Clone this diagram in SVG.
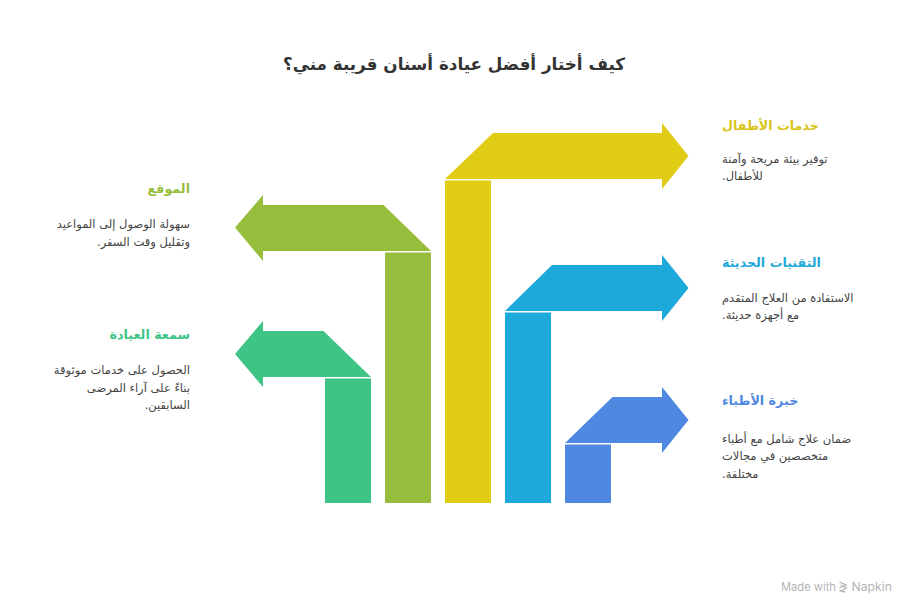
<svg xmlns="http://www.w3.org/2000/svg" width="912" height="612" viewBox="0 0 912 612">
<style>
text{font-family:"DejaVu Sans","Liberation Sans",sans-serif;}
.title{font-size:16.8px;font-weight:bold;fill:#333333;}
.h{font-size:12.7px;font-weight:bold;}
.b{font-size:11.5px;fill:#444444;}
.wm{fill:#b4b4b4;font-family:"Inter","Liberation Sans",sans-serif;}
</style>
<rect width="912" height="612" fill="#ffffff"/>
<text class="title" x="454" y="70" text-anchor="middle" direction="rtl">كيف أختار أفضل عيادة أسنان قريبة مني؟</text>

<g id="node-reputation">
<rect x="325" y="378.5" width="46" height="124.5" fill="#3EC484"/>
<polygon points="371,377 323.5,331 263,331 263,321 235,354 263,387 263,377" fill="#3EC484"/>
<text class="h" x="190" y="339" text-anchor="start" direction="rtl" fill="#3EC484">سمعة العيادة</text>
<text class="b" x="190" y="374" text-anchor="start" direction="rtl">الحصول على خدمات موثوقة</text>
<text class="b" x="190" y="391.5" text-anchor="start" direction="rtl">بناءً على آراء المرضى</text>
<text class="b" x="190" y="409" text-anchor="start" direction="rtl">السابقين.</text>
</g>

<g id="node-location">
<rect x="385" y="252.5" width="46" height="250.5" fill="#97BD3D"/>
<polygon points="431,251 383.5,205 263,205 263,195 235,227.5 263,261 263,251" fill="#97BD3D"/>
<text class="h" x="190" y="193" text-anchor="start" direction="rtl" fill="#97BD3D">الموقع</text>
<text class="b" x="190" y="228" text-anchor="start" direction="rtl">سهولة الوصول إلى المواعيد</text>
<text class="b" x="190" y="245.5" text-anchor="start" direction="rtl">وتقليل وقت السفر.</text>
</g>

<g id="node-kids">
<rect x="445" y="180.5" width="46" height="322.5" fill="#E0CB15"/>
<polygon points="445,179 493,133 662,133 662,123 688.5,156 662,189 662,179" fill="#E0CB15"/>
<text class="h" x="722" y="130" text-anchor="end" direction="rtl" fill="#D9C417">خدمات الأطفال</text>
<text class="b" x="722" y="163" text-anchor="end" direction="rtl">توفير بيئة مريحة وآمنة</text>
<text class="b" x="722" y="180" text-anchor="end" direction="rtl">للأطفال.</text>
</g>

<g id="node-tech">
<rect x="505" y="312.5" width="46" height="190.5" fill="#1EA9DB"/>
<polygon points="505,311 552,265 662,265 662,255 688.5,288 662,321 662,311" fill="#1EA9DB"/>
<text class="h" x="722" y="267" text-anchor="end" direction="rtl" fill="#1EA9DB">التقنيات الحديثة</text>
<text class="b" x="722" y="301.5" text-anchor="end" direction="rtl">الاستفادة من العلاج المتقدم</text>
<text class="b" x="722" y="318.5" text-anchor="end" direction="rtl">مع أجهزة حديثة.</text>
</g>

<g id="node-doctors">
<rect x="565" y="444.5" width="46" height="58.5" fill="#4F87E1"/>
<polygon points="565,443 612.5,397 662,397 662,387 688.5,420 662,453 662,443" fill="#4F87E1"/>
<text class="h" x="722" y="405" text-anchor="end" direction="rtl" fill="#4F87E1">خبرة الأطباء</text>
<text class="b" x="722" y="442.5" text-anchor="end" direction="rtl">ضمان علاج شامل مع أطباء</text>
<text class="b" x="722" y="460" text-anchor="end" direction="rtl">متخصصين في مجالات</text>
<text class="b" x="722" y="477.5" text-anchor="end" direction="rtl">مختلفة.</text>
</g>

<g id="connectors"></g>

<g id="watermark">
<text class="wm" x="836" y="591" font-size="11.2" text-anchor="end">Made with</text>
<path d="M839.5 582 L846 585 L839.5 588 M840.5 585 L846.5 588 L840.5 591 M839.5 590.5 L845 592" stroke="#b4b4b4" stroke-width="1.3" fill="none"/>
<text class="wm" x="851.5" y="591" font-size="12.2">Napkin</text>
</g>
</svg>
